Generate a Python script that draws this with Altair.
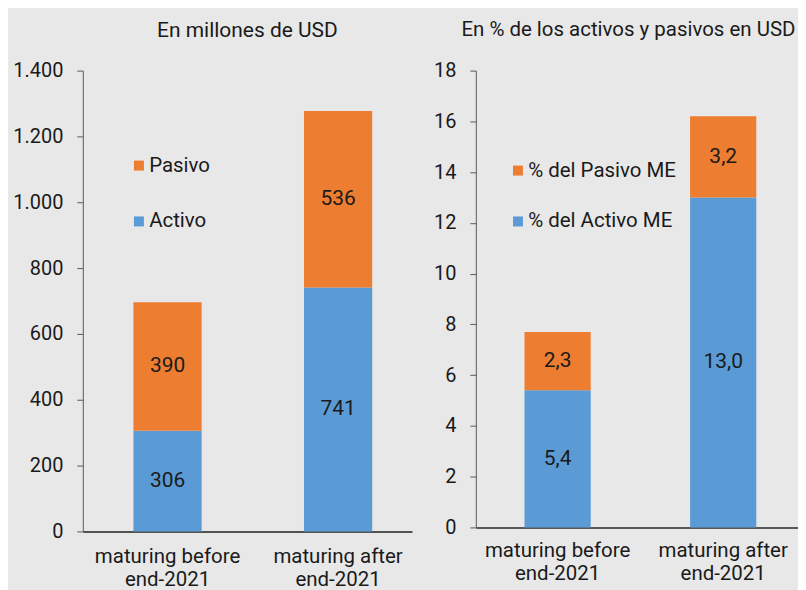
import altair as alt
import pandas as pd

categories = ["maturing before|end-2021", "maturing after|end-2021"]
series_left = ["Activo", "Pasivo"]
activo_usd = [306, 741]
pasivo_usd = [390, 536]
series_right = ["% del Activo ME", "% del Pasivo ME"]
activo_pct = [5.4, 13.0]
pasivo_pct = [2.3, 3.2]

FONT = "Roboto"
BLUE = "#5B9BD5"
ORANGE = "#ED7D31"
INK = "#1a1a1a"


def make_df(series, vals_a, vals_p, fmt):
    rows = []
    for i, c in enumerate(categories):
        rows.append({"cat": c, "serie": series[0], "ord": 0, "value": vals_a[i], "label": fmt(vals_a[i])})
        rows.append({"cat": c, "serie": series[1], "ord": 1, "value": vals_p[i], "label": fmt(vals_p[i])})
    return pd.DataFrame(rows)


df_l = make_df(series_left, activo_usd, pasivo_usd, lambda v: f"{v:d}")
df_r = make_df(series_right, activo_pct, pasivo_pct, lambda v: f"{v:.1f}".replace(".", ","))


def panel(df, series, ymax, ystep, title, width, height, po, align, lx, ly, rowpad,
          yfmt, xdomain_color, xdomain_width, tdx, tsize, lpad):
    xenc = alt.X("cat:N", sort=categories, title=None,
                 scale=alt.Scale(paddingInner=0.6, paddingOuter=po, align=align),
                 axis=alt.Axis(labelAngle=0, ticks=False, labelExpr="split(datum.label, '|')",
                               labelFontSize=20.5, labelLineHeight=23, labelPadding=lpad,
                               domainColor=xdomain_color, domainWidth=xdomain_width,
                               labelColor=INK, labelFont=FONT))
    yscale = alt.Scale(domain=[0, ymax], nice=False)
    yaxis = alt.Axis(values=list(range(0, ymax + 1, ystep)), grid=False, tickSize=6,
                     tickColor="#595959", domainColor="#595959", labelFontSize=20,
                     labelPadding=14, labelColor=INK, labelFont=FONT,
                     labelExpr=yfmt)
    color = alt.Color("serie:N",
                      scale=alt.Scale(domain=[series[1], series[0]], range=[ORANGE, BLUE]),
                      legend=alt.Legend(orient="none", legendX=lx, legendY=ly, title=None,
                                        symbolType="square", symbolSize=100,
                                        symbolStrokeWidth=0, labelFontSize=20.5,
                                        labelFont=FONT, labelColor=INK,
                                        rowPadding=rowpad, labelOffset=0))
    bars = alt.Chart(df).mark_bar().encode(
        x=xenc,
        y=alt.Y("value:Q", stack="zero", scale=yscale, axis=yaxis, title=None),
        color=color,
        order=alt.Order("ord:Q", sort="ascending"),
    )
    text = alt.Chart(df).transform_stack(
        stack="value", groupby=["cat"], as_=["v0", "v1"], sort=[alt.SortField("ord")]
    ).transform_calculate(mid="(datum.v0 + datum.v1) / 2").mark_text(
        fontSize=21, font=FONT, color=INK
    ).encode(
        x=alt.X("cat:N", sort=categories),
        y=alt.Y("mid:Q"),
        text="label:N",
    )
    return alt.layer(bars, text).properties(
        width=width, height=height,
        title=alt.TitleParams(title, fontSize=tsize, font=FONT, fontWeight="normal",
                              color=INK, offset=20, dx=tdx),
    ).resolve_scale(color="independent")


left = panel(df_l, series_left, 1400, 200, "En millones de USD", 330, 462, 0.265, 0.56,
             46, 85, 35, "replace(format(datum.value, ',.0f'), ',', '.')", "#222222", 1.5,
             0, 21, 15)
right = panel(df_r, series_right, 18, 2, "En % de los activos y pasivos en USD", 330, 458,
              0.294, 0.5, 32, 90, 30, "format(datum.value, 'd')", "#595959", 2, -12, 20.5, 13)

chart = alt.hconcat(left, right, spacing=21).resolve_scale(color="independent").configure(
    background="#E8E8E8", padding={"left": 4, "top": 11, "right": -7, "bottom": 0}
).configure_view(stroke=None)

chart.save("out.html", embed_options={"renderer": "svg", "actions": False})
